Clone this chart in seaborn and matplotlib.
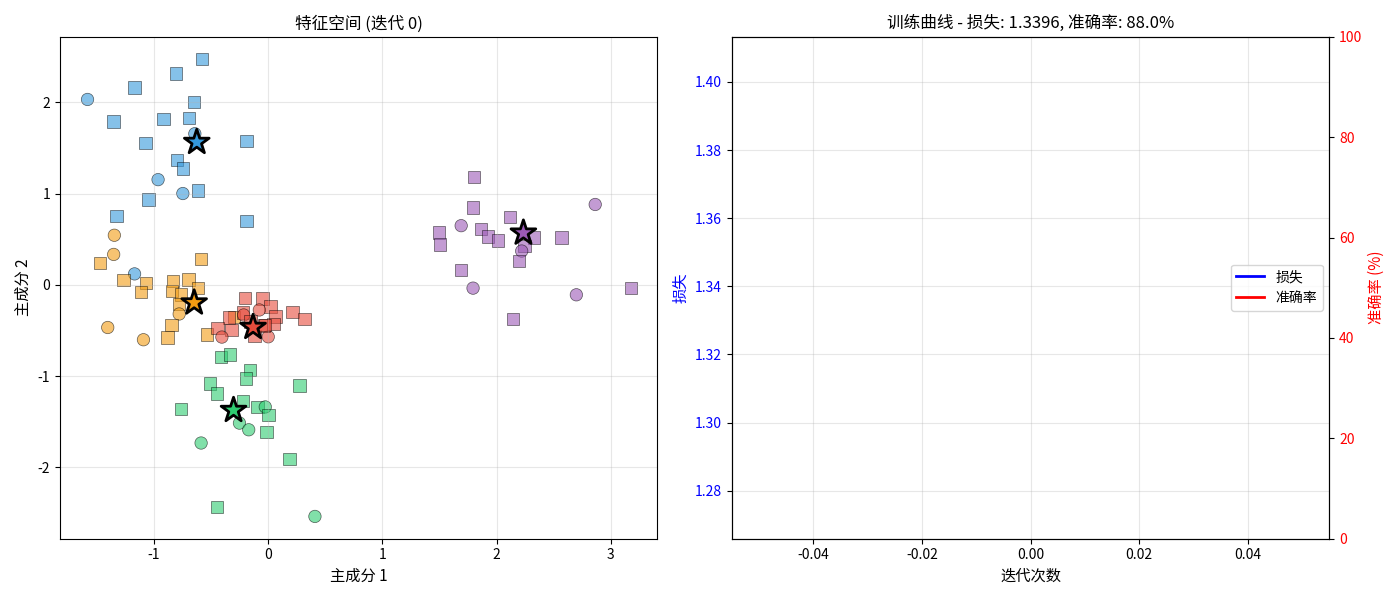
import numpy as np
import pandas as pd
import matplotlib
matplotlib.use("Agg")
import matplotlib.pyplot as plt
import seaborn as sns

# Datos del espacio de características
colores = {"c0": "#3498db", "c1": "#f39c12", "c2": "#e74c3c", "c3": "#2ecc71", "c4": "#9b59b6"}

azul_x = [-1.583, -0.58, -0.806, -1.171, -0.65, -1.354, -0.919, -0.693, -0.643, -0.191, -1.075,
          -0.80, -0.745, -0.965, -0.748, -0.615, -1.05, -1.328, -0.191, -1.171]
azul_y = [2.03, 2.47, 2.315, 2.16, 2.0, 1.79, 1.815, 1.826, 1.655, 1.573, 1.554,
          1.366, 1.272, 1.152, 1.0, 1.033, 0.935, 0.757, 0.696, 0.12]
azul_t = ["o", "s", "s", "s", "s", "s", "s", "s", "o", "s", "s",
          "s", "s", "o", "o", "s", "s", "s", "s", "o"]

naranja_x = [-1.348, -1.354, -1.475, -0.588, -1.267, -1.07, -0.832, -0.70, -0.617, -0.843, -1.113,
             -0.762, -0.78, -0.78, -0.849, -0.884, -1.406, -1.093, -0.536, -0.299]
naranja_y = [0.543, 0.333, 0.239, 0.283, 0.051, 0.022, 0.04, 0.058, -0.033, -0.069, -0.08,
             -0.105, -0.21, -0.319, -0.438, -0.576, -0.467, -0.601, -0.543, -0.355]
naranja_t = ["o", "o", "s", "s", "s", "s", "s", "s", "s", "s", "s",
             "s", "s", "o", "s", "s", "o", "o", "s", "s"]

rojo_x = [-0.206, -0.05, 0.02, -0.078, -0.223, -0.345, 0.064, 0.211, 0.316, -0.443,
          -0.322, -0.406, 0.0, -0.119, -0.035, 0.046, -0.215, -0.157, -0.026]
rojo_y = [-0.141, -0.149, -0.239, -0.275, -0.304, -0.359, -0.348, -0.297, -0.373, -0.475,
          -0.493, -0.572, -0.569, -0.558, -0.446, -0.428, -0.33, -0.402, -0.438]
rojo_t = ["s", "s", "s", "o", "s", "s", "s", "s", "s", "s",
          "s", "o", "o", "s", "s", "s", "o", "s", "s"]

verde_x = [-0.415, -0.336, -0.162, -0.197, -0.51, -0.449, 0.272, -0.223, -0.762, -0.093,
           -0.026, 0.003, -0.252, -0.171, -0.017, -0.588, 0.185, -0.449, 0.409]
verde_y = [-0.793, -0.764, -0.935, -1.025, -1.08, -1.188, -1.101, -1.272, -1.359, -1.337,
           -1.337, -1.424, -1.514, -1.587, -1.612, -1.732, -1.906, -2.435, -2.536]
verde_t = ["s", "s", "s", "s", "s", "s", "s", "s", "s", "s",
           "o", "s", "o", "o", "s", "o", "s", "s", "o"]

morado_x = [1.803, 1.794, 2.116, 2.864, 1.69, 1.498, 1.507, 1.863, 1.925, 2.012, 2.33,
            2.568, 2.246, 2.22, 2.194, 1.69, 1.794, 2.699, 3.177, 2.142]
morado_y = [1.181, 0.845, 0.746, 0.88, 0.648, 0.572, 0.442, 0.609, 0.529, 0.486, 0.518,
            0.518, 0.424, 0.37, 0.258, 0.16, -0.036, -0.109, -0.036, -0.373]
morado_t = ["s", "s", "s", "o", "o", "s", "s", "s", "s", "s", "s",
            "s", "s", "o", "s", "s", "o", "o", "s", "s"]

centro_x = [-0.626, -0.649, -0.133, -0.304, 2.235]
centro_y = [1.562, -0.196, -0.464, -1.373, 0.569]

# Curva de entrenamiento (una sola iteración)
iteraciones = [0]
historial_perdida = [1.3396]
historial_precision = [88.0]


def armar_tabla():
    grupos = [
        ("c0", azul_x, azul_y, azul_t),
        ("c1", naranja_x, naranja_y, naranja_t),
        ("c2", rojo_x, rojo_y, rojo_t),
        ("c3", verde_x, verde_y, verde_t),
        ("c4", morado_x, morado_y, morado_t),
    ]
    filas = []
    for nombre, xs, ys, ts in grupos:
        for x, y, t in zip(xs, ys, ts):
            filas.append({"x": x, "y": y, "cluster": nombre, "tipo": t})
    return pd.DataFrame(filas)


df = armar_tabla()
plt.rcParams["font.family"] = ["Noto Sans CJK SC", "DejaVu Sans"]
plt.rcParams["axes.unicode_minus"] = False

fig, (ax1, ax2) = plt.subplots(1, 2, figsize=(14, 6), dpi=100)

# 1. Espacio de características
sns.scatterplot(data=df, x="x", y="y", hue="cluster", style="tipo", palette=colores,
                markers={"o": "o", "s": "s"}, s=80, alpha=0.6, edgecolor="black",
                linewidth=0.5, legend=False, ax=ax1)
df_centros = pd.DataFrame({"x": centro_x, "y": centro_y, "cluster": list(colores.keys())})
sns.scatterplot(data=df_centros, x="x", y="y", hue="cluster", palette=colores, marker="*",
                s=350, edgecolor="black", linewidth=2, legend=False, ax=ax1, zorder=5)
ax1.set_xlim(-1.826, 3.409)
ax1.set_ylim(-2.78, 2.717)
ax1.set_title("特征空间 (迭代 0)", fontsize=12)
ax1.set_xlabel("主成分 1", fontsize=11)
ax1.set_ylabel("主成分 2", fontsize=11)
ax1.grid(True, alpha=0.3)

# 2. Curva de entrenamiento con doble eje
l1, = ax2.plot(iteraciones, historial_perdida, color="blue", linewidth=2, label="损失")
ax2.set_xlabel("迭代次数", fontsize=11)
ax2.set_ylabel("损失", color="blue", fontsize=11)
ax2.tick_params(axis="y", labelcolor="blue")
ax2.grid(True, alpha=0.3)

ax3 = ax2.twinx()
l2, = ax3.plot(iteraciones, historial_precision, color="red", linewidth=2, label="准确率")
ax3.set_ylabel("准确率 (%)", color="red", fontsize=11)
ax3.tick_params(axis="y", labelcolor="red")
ax3.set_ylim(0, 100)

ax2.legend([l1, l2], ["损失", "准确率"], loc="center right")
ax2.set_title(f"训练曲线 - 损失: {historial_perdida[-1]:.4f}, 准确率: {historial_precision[-1]:.1f}%",
              fontsize=12)

plt.tight_layout()
plt.savefig("out.png", dpi=100)
plt.close()
